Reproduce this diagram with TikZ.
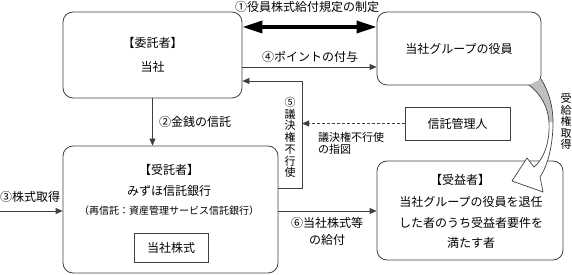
\documentclass[tikz,border=0pt]{standalone}
\usepackage{fontspec}
\setmainfont{Noto Sans CJK JP}
\usetikzlibrary{arrows.meta}

\begin{document}
\begin{tikzpicture}[x=1pt,y=-1pt,
  every node/.style={font=\fontsize{12pt}{14pt}\selectfont, inner sep=0pt},
  party/.style={draw=black!75, line width=0.8pt, rounded corners=10pt},
  plain/.style={draw=black!75, line width=0.8pt},
  link/.style={draw=black!75, line width=0.8pt, -{Triangle[length=7pt,width=6pt]}}]
  \useasboundingbox (0,0) rectangle (572,275);

  % parties
  \node[party, minimum width=179pt, minimum height=86pt, align=center,
        font=\fontsize{12pt}{24pt}\selectfont] (consignor) at (152.5,55) {【委託者】\\当社};
  \node[party, minimum width=164pt, minimum height=73pt] (officers) at (459,48.5) {当社グループの役員};
  \node[party, minimum width=215pt, minimum height=127pt] (trustee) at (170.5,209.5) {};
  \node (trusteehead) at (169,170) {【受託者】};
  \node (trusteename) at (169,191) {みずほ信託銀行};
  \node[font=\fontsize{10pt}{12pt}\selectfont] (trusteesub) at (169,211) {（再信託：資産管理サービス信託銀行）};
  \node[plain, minimum width=74pt, minimum height=29pt] (shares) at (171,247.5) {当社株式};
  \node[party, minimum width=186pt, minimum height=99pt] (beneficiary) at (470,210.5) {};
  \node (benefhead) at (460,180) {【受益者】};
  \node[align=center, font=\fontsize{12pt}{20.5pt}\selectfont] (benefbody) at (471,222.5)
        {当社グループの役員を退任\\した者のうち受益者要件を\\満たす者};
  \node[plain, minimum width=105pt, minimum height=33pt] (admin) at (457.5,123.5) {信託管理人};

  % connectors
  \coordinate (vbend) at (302,81);
  \coordinate (market) at (0,211);
  \draw[line width=3.5pt, {Triangle[length=20pt,width=12pt]}-{Triangle[length=20pt,width=12pt]}]
        (consignor.east |- 0,27) -- (officers.west |- 0,27);
  \draw[link] (consignor.east |- 0,67) -- (officers.west |- 0,67);
  \draw[link] (trustee.east |- 0,188) -| (vbend) -- (consignor.east |- vbend);
  \draw[link, dash pattern=on 3pt off 2pt] (admin.west) -- (vbend |- admin.west);
  \draw[link] (consignor.south) -- (consignor.south |- trustee.north);
  \draw[link] (market) -- (trustee.west |- market);
  \draw[link] (trustee.east |- market) -- (beneficiary.west |- market);

  % curved arrow
  \path[fill=white] (541,79) .. controls (548,90) and (553,105) .. (553,122)
        .. controls (553,145) and (548,165) .. (540,177) -- (543,192) -- (512,181)
        -- (527,158) -- (534,167) .. controls (545,158) and (550,140) .. (549,122)
        .. controls (548,108) and (542,95) .. (529,85) -- cycle;
  \fill[black!25] (529,85) .. controls (542,95) and (548,108) .. (549,122) -- (553,122)
        .. controls (553,105) and (548,90) .. (541,79) -- cycle;
  \draw[black!75, line width=0.7pt, line join=round] (541,79) .. controls (548,90) and (553,105) .. (553,122)
        .. controls (553,145) and (548,165) .. (540,177) -- (543,192) -- (512,181)
        -- (527,158) -- (534,167) .. controls (545,158) and (550,140) .. (549,122)
        .. controls (548,108) and (542,95) .. (529,85);

  % labels
  \node (lblone) at (307,7) {①役員株式給付規定の制定};
  \node (lblfour) at (310,57) {④ポイントの付与};
  \node[anchor=west] (lbltwo) at (159,122) {②金銭の信託};
  \node[anchor=west] (lblthree) at (0,197) {③株式取得};
  \node[align=center, font=\fontsize{12pt}{17pt}\selectfont] (lblsix) at (327,231.5) {⑥当社株式等\\の給付};
  \node[align=left, anchor=west, font=\fontsize{11pt}{12.5pt}\selectfont] (lblinstr) at (318,143.5) {議決権不行使\\の指図};
  \node[align=center, font=\fontsize{11pt}{11.7pt}\selectfont] (lblfive) at (290,137.5) {⑤\\議\\決\\権\\不\\行\\使};
  \node[align=center, font=\fontsize{11pt}{11.4pt}\selectfont] (lblright) at (566,121.5) {受\\給\\権\\取\\得};
\end{tikzpicture}
\end{document}
